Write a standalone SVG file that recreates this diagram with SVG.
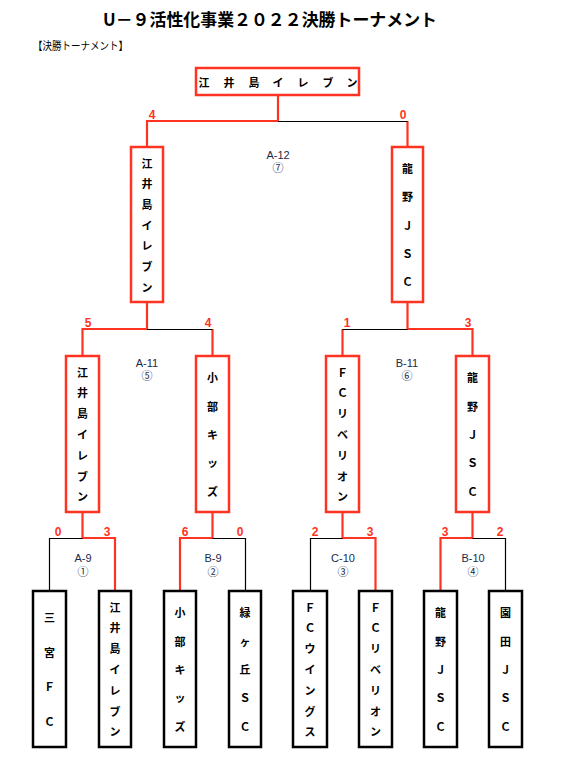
<svg xmlns="http://www.w3.org/2000/svg" width="567" height="767" viewBox="0 0 567 767">
<style>
.jp{font-family:"Noto Sans CJK JP","Liberation Sans",sans-serif}
.t{font-family:"Noto Sans CJK JP","Liberation Sans",sans-serif;font-size:11px;font-weight:bold;fill:#000;text-anchor:middle;dominant-baseline:central}
.rb{fill:#fff;stroke:#ff3322;stroke-width:2.5}
.kb{fill:#fff;stroke:#000;stroke-width:2.5}
.r{stroke:#ff3322;stroke-width:2.2;fill:none}
.k{stroke:#000;stroke-width:1.2;fill:none}
.s{font-family:"Liberation Sans",Arial,sans-serif;font-size:12px;font-weight:bold;fill:#ff3322;text-anchor:middle;dominant-baseline:central}
.l{font-family:"Liberation Sans","Noto Sans CJK JP",sans-serif;font-size:11px;fill:#1c2a4a;text-anchor:middle;dominant-baseline:central}
</style>
<rect width="567" height="767" fill="#fff"/>
<text class="jp" x="270" y="26" font-size="17" font-weight="bold" text-anchor="middle" textLength="334" lengthAdjust="spacingAndGlyphs">U－９活性化事業２０２２決勝トーナメント</text>
<text class="jp" x="33" y="50" font-size="11" textLength="95" lengthAdjust="spacingAndGlyphs">【決勝トーナメント】</text>

<g id="connectors">
<path class="r" d="M278 95V121H147V147M407.5 121V147"/>
<path class="k" d="M278 121.5H407.5"/>
<path class="r" d="M147 302V329H82.5V356M212.5 329V356"/>
<path class="k" d="M147 329.5H212.5"/>
<path class="r" d="M407.5 302V329H472.5V356M342.5 329V356"/>
<path class="k" d="M342.5 329.5H407.5"/>
<path class="r" d="M82.5 512V538H115V591"/>
<path class="k" d="M82.5 538.5H49.5V591"/>
<path class="r" d="M212.5 512V538H180V591"/>
<path class="k" d="M212.5 538.5H245.5V591"/>
<path class="r" d="M342.5 512V538H375.5V591"/>
<path class="k" d="M342.5 538.5H310.5V591"/>
<path class="r" d="M472.5 512V538H440.5V591"/>
<path class="k" d="M472.5 538.5H505.5V591"/>
</g>

<g id="scores">
<text class="s" x="152" y="115">4</text>
<text class="s" x="403" y="115">0</text>
<text class="s" x="88" y="323">5</text>
<text class="s" x="208" y="323">4</text>
<text class="s" x="347" y="323">1</text>
<text class="s" x="468" y="323">3</text>
<text class="s" x="58" y="532">0</text>
<text class="s" x="107" y="532">3</text>
<text class="s" x="185" y="532">6</text>
<text class="s" x="240" y="532">0</text>
<text class="s" x="315" y="532">2</text>
<text class="s" x="370" y="532">3</text>
<text class="s" x="445" y="532">3</text>
<text class="s" x="500" y="532">2</text>
</g>

<g id="match-labels">
<text class="l" x="278" y="155">A-12</text><text class="l" x="278" y="168">⑦</text>
<text class="l" x="147" y="363">A-11</text><text class="l" x="147" y="376">⑤</text>
<text class="l" x="407" y="363">B-11</text><text class="l" x="407" y="376">⑥</text>
<text class="l" x="83" y="558">A-9</text><text class="l" x="83" y="572">①</text>
<text class="l" x="213" y="558">B-9</text><text class="l" x="213" y="572">②</text>
<text class="l" x="343" y="558">C-10</text><text class="l" x="343" y="572">③</text>
<text class="l" x="473" y="558">B-10</text><text class="l" x="473" y="572">④</text>
</g>

<g id="champion">
<rect class="rb" x="196" y="68" width="163" height="27"/>
<text class="t" y="82"><tspan x="204">江</tspan><tspan x="229">井</tspan><tspan x="254">島</tspan><tspan x="278">イ</tspan><tspan x="303">レ</tspan><tspan x="328">ブ</tspan><tspan x="352">ン</tspan></text>
</g>

<g id="final-left">
<rect class="rb" x="131" y="147" width="32" height="155"/>
<text class="t"><tspan x="147" y="162.5">江</tspan><tspan x="147" y="183.2">井</tspan><tspan x="147" y="203.8">島</tspan><tspan x="147" y="224.5">イ</tspan><tspan x="147" y="245.2">レ</tspan><tspan x="147" y="265.8">ブ</tspan><tspan x="147" y="286.5">ン</tspan></text>
</g>
<g id="final-right">
<rect class="rb" x="392" y="147" width="31" height="155"/>
<text class="t"><tspan x="407.5" y="168.1">龍</tspan><tspan x="407.5" y="196.3">野</tspan><tspan x="407.5" y="224.5">Ｊ</tspan><tspan x="407.5" y="252.7">Ｓ</tspan><tspan x="407.5" y="280.9">Ｃ</tspan></text>
</g>

<g id="semi-1">
<rect class="rb" x="66" y="356" width="33" height="156"/>
<text class="t"><tspan x="82.5" y="371.6">江</tspan><tspan x="82.5" y="392.4">井</tspan><tspan x="82.5" y="413.2">島</tspan><tspan x="82.5" y="434">イ</tspan><tspan x="82.5" y="454.8">レ</tspan><tspan x="82.5" y="475.6">ブ</tspan><tspan x="82.5" y="496.4">ン</tspan></text>
</g>
<g id="semi-2">
<rect class="rb" x="196" y="356" width="33" height="156"/>
<text class="t"><tspan x="212.5" y="377.3">小</tspan><tspan x="212.5" y="405.6">部</tspan><tspan x="212.5" y="434">キ</tspan><tspan x="212.5" y="462.4">ッ</tspan><tspan x="212.5" y="490.7">ズ</tspan></text>
</g>
<g id="semi-3">
<rect class="rb" x="326" y="356" width="33" height="156"/>
<text class="t"><tspan x="342.5" y="371.6">Ｆ</tspan><tspan x="342.5" y="392.4">Ｃ</tspan><tspan x="342.5" y="413.2">リ</tspan><tspan x="342.5" y="434">ベ</tspan><tspan x="342.5" y="454.8">リ</tspan><tspan x="342.5" y="475.6">オ</tspan><tspan x="342.5" y="496.4">ン</tspan></text>
</g>
<g id="semi-4">
<rect class="rb" x="456" y="356" width="33" height="156"/>
<text class="t"><tspan x="472.5" y="377.3">龍</tspan><tspan x="472.5" y="405.6">野</tspan><tspan x="472.5" y="434">Ｊ</tspan><tspan x="472.5" y="462.4">Ｓ</tspan><tspan x="472.5" y="490.7">Ｃ</tspan></text>
</g>

<g id="team-1">
<rect class="kb" x="33" y="591" width="33" height="156"/>
<text class="t"><tspan x="49.5" y="617">三</tspan><tspan x="49.5" y="651.7">宮</tspan><tspan x="49.5" y="686.3">Ｆ</tspan><tspan x="49.5" y="721">Ｃ</tspan></text>
</g>
<g id="team-2">
<rect class="kb" x="99" y="591" width="32" height="156"/>
<text class="t"><tspan x="115" y="606.6">江</tspan><tspan x="115" y="627.4">井</tspan><tspan x="115" y="648.2">島</tspan><tspan x="115" y="669">イ</tspan><tspan x="115" y="689.8">レ</tspan><tspan x="115" y="710.6">ブ</tspan><tspan x="115" y="731.4">ン</tspan></text>
</g>
<g id="team-3">
<rect class="kb" x="164" y="591" width="32" height="156"/>
<text class="t"><tspan x="180" y="612.3">小</tspan><tspan x="180" y="640.6">部</tspan><tspan x="180" y="669">キ</tspan><tspan x="180" y="697.4">ッ</tspan><tspan x="180" y="725.7">ズ</tspan></text>
</g>
<g id="team-4">
<rect class="kb" x="229" y="591" width="32" height="156"/>
<text class="t"><tspan x="245" y="612.3">緑</tspan><tspan x="245" y="640.6">ヶ</tspan><tspan x="245" y="669">丘</tspan><tspan x="245" y="697.4">Ｓ</tspan><tspan x="245" y="725.7">Ｃ</tspan></text>
</g>
<g id="team-5">
<rect class="kb" x="293" y="591" width="34" height="156"/>
<text class="t"><tspan x="310" y="606.6">Ｆ</tspan><tspan x="310" y="627.4">Ｃ</tspan><tspan x="310" y="648.2">ウ</tspan><tspan x="310" y="669">イ</tspan><tspan x="310" y="689.8">ン</tspan><tspan x="310" y="710.6">グ</tspan><tspan x="310" y="731.4">ス</tspan></text>
</g>
<g id="team-6">
<rect class="kb" x="359" y="591" width="33" height="156"/>
<text class="t"><tspan x="375.5" y="606.6">Ｆ</tspan><tspan x="375.5" y="627.4">Ｃ</tspan><tspan x="375.5" y="648.2">リ</tspan><tspan x="375.5" y="669">ベ</tspan><tspan x="375.5" y="689.8">リ</tspan><tspan x="375.5" y="710.6">オ</tspan><tspan x="375.5" y="731.4">ン</tspan></text>
</g>
<g id="team-7">
<rect class="kb" x="424" y="591" width="33" height="156"/>
<text class="t"><tspan x="440.5" y="612.3">龍</tspan><tspan x="440.5" y="640.6">野</tspan><tspan x="440.5" y="669">Ｊ</tspan><tspan x="440.5" y="697.4">Ｓ</tspan><tspan x="440.5" y="725.7">Ｃ</tspan></text>
</g>
<g id="team-8">
<rect class="kb" x="489" y="591" width="33" height="156"/>
<text class="t"><tspan x="505.5" y="612.3">園</tspan><tspan x="505.5" y="640.6">田</tspan><tspan x="505.5" y="669">Ｊ</tspan><tspan x="505.5" y="697.4">Ｓ</tspan><tspan x="505.5" y="725.7">Ｃ</tspan></text>
</g>
</svg>
